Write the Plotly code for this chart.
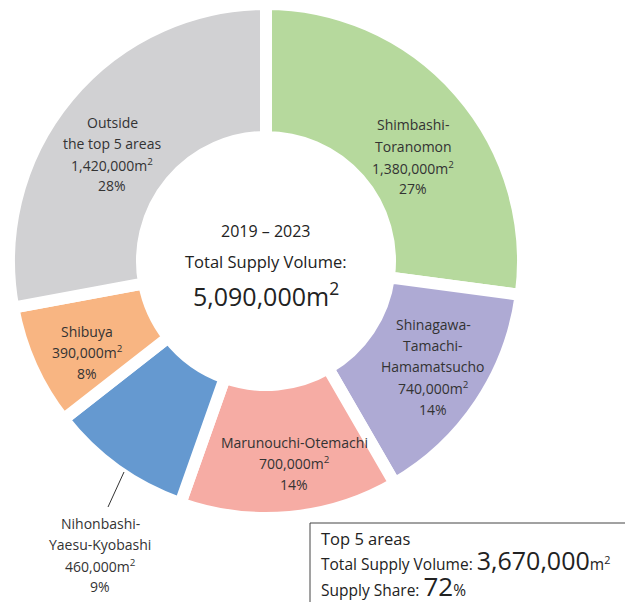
import plotly.graph_objects as go

# Office supply by area, 2019-2023 (m²)
areas = ["Shimbashi-Toranomon", "Shinagawa-Tamachi-Hamamatsucho", "Marunouchi-Otemachi",
         "Nihonbashi-Yaesu-Kyobashi", "Shibuya", "Outside the top 5 areas"]
label_lines = [
    ["Shimbashi-", "Toranomon"],
    ["Shinagawa-", "Tamachi-", "Hamamatsucho"],
    ["Marunouchi-Otemachi"],
    ["Nihonbashi-", "Yaesu-Kyobashi"],
    ["Shibuya"],
    ["Outside", "the top 5 areas"],
]
supply = [1380000, 740000, 700000, 460000, 390000, 1420000]
share_pct = [27, 14, 14, 9, 8, 28]
colors = ["#b6d99d", "#aeaad4", "#f6aca4", "#6599d0", "#f8b582", "#d1d1d3"]

total_supply = 5090000
top5_supply = 3670000
top5_share = 72
period = "2019 – 2023"

W, H = 625, 602
TEXT = "#333333"
FONT = "Open Sans"

# label anchor points (px) and line spacing for each slice label
label_pos = [(413, 125), (433, 324), (294, 442), (100, 523), (87, 331), (112, 122)]
line_gap = 21.3

cx, cy, r_out = 266, 261, 257

fig = go.Figure(go.Pie(
    labels=areas,
    values=supply,
    sort=False,
    direction="clockwise",
    rotation=0,
    hole=124 / r_out,
    marker=dict(colors=colors, line=dict(color="white", width=12)),
    textinfo="none",
    hoverinfo="label+value+percent",
    showlegend=False,
    domain=dict(x=[(cx - r_out) / W, (cx + r_out) / W],
                y=[(H - cy - r_out) / H, (H - cy + r_out) / H]),
))


def px(x, y):
    return x / W, 1 - y / H


annotations = []
for lines, val, pct, (x0, y0) in zip(label_lines, supply, share_pct, label_pos):
    rows = lines + [f"{val:,}m<sup>2</sup>", f"{pct}%"]
    for i, row in enumerate(rows):
        ax, ay = px(x0, y0 + i * line_gap)
        annotations.append(dict(
            x=ax, y=ay, xref="paper", yref="paper", text=row, showarrow=False,
            xanchor="center", yanchor="middle",
            font=dict(family=FONT, size=14, color=TEXT)))

# centre text
for text, y, size in [(period, 231, 16),
                      ("Total Supply Volume:", 261, 16.5),
                      (f"{total_supply:,}m<sup>2</sup>", 294, 25)]:
    ax, ay = px(266, y)
    annotations.append(dict(x=ax, y=ay, xref="paper", yref="paper", text=text,
                            showarrow=False, xanchor="center", yanchor="middle",
                            font=dict(family=FONT, size=size, color="#222222")))

# summary box text (one block; base size sets the line spacing)
box_text = (
    "<span style='font-size:16.5px'>Top 5 areas</span><br>"
    "<span style='font-size:15.5px'>Total Supply Volume: </span>"
    f"<span style='font-size:25px'>{top5_supply:,}</span>"
    "<span style='font-size:15.5px'>m<sup>2</sup></span><br>"
    "<span style='font-size:15.5px'>Supply Share: </span>"
    f"<span style='font-size:26px'>{top5_share}</span>"
    "<span style='font-size:15.5px'>%</span>"
)
bx, by = px(319, 525)
annotations.append(dict(x=bx, y=by, xref="paper", yref="paper", text=box_text,
                        showarrow=False, xanchor="left", yanchor="top", align="left",
                        font=dict(family=FONT, size=19.5, color="#222222")))

shapes = [
    # summary box
    dict(type="rect", xref="paper", yref="paper",
         x0=310 / W, x1=1.02, y0=-0.02, y1=1 - 523 / H,
         line=dict(color="#444444", width=1), fillcolor="rgba(0,0,0,0)"),
    # leader line for the Nihonbashi label
    dict(type="line", xref="paper", yref="paper",
         x0=124 / W, y0=1 - 472 / H, x1=108 / W, y1=1 - 507 / H,
         line=dict(color="#333333", width=1)),
]

fig.update_layout(
    width=W, height=H,
    margin=dict(l=0, r=0, t=0, b=0),
    paper_bgcolor="white", plot_bgcolor="white",
    annotations=annotations, shapes=shapes,
)

fig.write_html("out.html")
